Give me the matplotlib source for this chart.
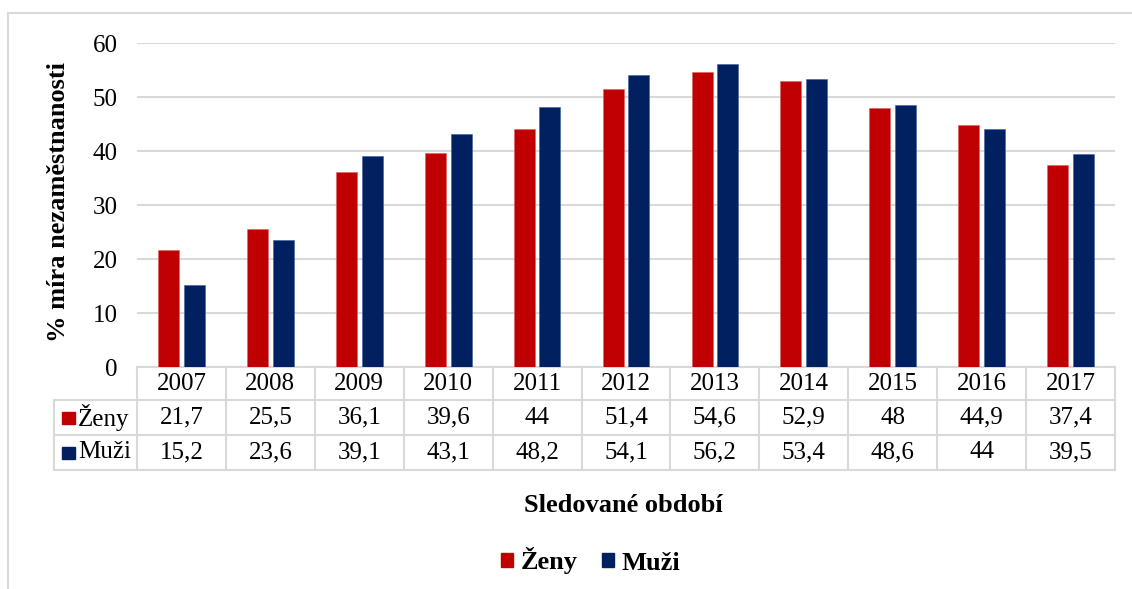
import matplotlib
matplotlib.use("Agg")
import matplotlib.pyplot as plt
import numpy as np
from matplotlib.patches import Patch, Rectangle
from matplotlib.lines import Line2D
from matplotlib.transforms import blended_transform_factory

# ---------- Data ----------
years = ["2007", "2008", "2009", "2010", "2011", "2012", "2013", "2014", "2015", "2016", "2017"]
zeny = [21.7, 25.5, 36.1, 39.6, 44, 51.4, 54.6, 52.9, 48, 44.9, 37.4]
muzi = [15.2, 23.6, 39.1, 43.1, 48.2, 54.1, 56.2, 53.4, 48.6, 44, 39.5]
series_names = ["Ženy", "Muži"]

RED = "#C00000"
BLUE = "#002060"
GRID = "#D9D9D9"
FS = 18      # ticks / table
FT = 19      # axis titles, legend

plt.rcParams["font.family"] = ["Liberation Serif", "DejaVu Serif"]

W, H = 1132, 589
fig = plt.figure(figsize=(W / 100, H / 100), dpi=100)

def fx(px):
    return px / W

def fy(py):
    return 1 - py / H

# chart frame (light gray border)
fig.add_artist(Rectangle((fx(8), fy(600)), fx(1140) - fx(8), fy(13) - fy(600),
                         transform=fig.transFigure, fill=False, edgecolor=GRID, lw=1.5))

ax = fig.add_axes([fx(137), fy(367), fx(1115) - fx(137), fy(43) - fy(367)])

x = np.arange(len(years))
bw = 0.236
ax.bar(x - 0.145, zeny, bw, color=RED, edgecolor="#e06060", lw=0.4, zorder=3)
ax.bar(x + 0.145, muzi, bw, color=BLUE, edgecolor="#4060a0", lw=0.4, zorder=3)

ax.set_xlim(-0.5, len(years) - 0.5)
ax.set_ylim(0, 60)
ax.set_yticks(range(0, 61, 10))
ax.yaxis.grid(True, color=GRID, lw=1.5, zorder=0)
ax.set_xticks([])
ax.tick_params(axis="y", length=0, labelsize=FS, pad=14)
for s in ax.spines.values():
    s.set_visible(False)

ax.set_ylabel("% míra nezaměstnanosti", fontsize=FT, fontweight="bold")
ax.yaxis.set_label_coords(-0.068, 0.51)

# ---------- Data table under the axes ----------
tr = blended_transform_factory(ax.transData, ax.transAxes)

def ay(py):
    # pixel row -> axes fraction
    return (367 - py) / (367 - 43)

row_edges = [367, 400, 435, 470]
n = len(years)
left_px = 54
left_data = -0.5 + (left_px - 137) / ((1115 - 137) / n)

lkw = dict(color=GRID, lw=1.5, transform=tr, clip_on=False)
# horizontal lines
ax.add_line(Line2D([-0.5, n - 0.5], [ay(row_edges[0])] * 2, **lkw))
for r in row_edges[1:]:
    ax.add_line(Line2D([left_data, n - 0.5], [ay(r)] * 2, **lkw))
# vertical lines
for i in range(n + 1):
    ax.add_line(Line2D([i - 0.5, i - 0.5], [ay(row_edges[0]), ay(row_edges[-1])], **lkw))
ax.add_line(Line2D([left_data, left_data], [ay(row_edges[1]), ay(row_edges[-1])], **lkw))

def fmt(v):
    return ("%g" % v).replace(".", ",")

for i, yr in enumerate(years):
    ax.text(i, ay((row_edges[0] + row_edges[1]) / 2), yr, transform=tr,
            ha="center", va="center", fontsize=FS)
    ax.text(i, ay((row_edges[1] + row_edges[2]) / 2), fmt(zeny[i]), transform=tr,
            ha="center", va="center", fontsize=FS)
    ax.text(i, ay((row_edges[2] + row_edges[3]) / 2), fmt(muzi[i]), transform=tr,
            ha="center", va="center", fontsize=FS)

# row headers with colour keys
for k, (name, col) in enumerate(zip(series_names, [RED, BLUE])):
    yc = (row_edges[k + 1] + row_edges[k + 2]) / 2
    fig.add_artist(Rectangle((fx(62), fy(yc + 6)), fx(75) - fx(62), fy(yc - 6) - fy(yc + 6),
                             transform=fig.transFigure, color=col))
    fig.text(fx(78), fy(yc), name, ha="left", va="center", fontsize=FS)

# ---------- Axis title and legend ----------
fig.text(fx(623), fy(506), "Sledované období", ha="center", va="center",
         fontsize=FT, fontweight="bold")

handles = [Patch(color=RED), Patch(color=BLUE)]
fig.legend(handles, series_names, loc="center", bbox_to_anchor=(fx(591), fy(561)),
           ncol=2, frameon=False, prop={"weight": "bold", "size": FT},
           handlelength=0.45, handleheight=0.45, handletextpad=0.3, columnspacing=0.9)

fig.savefig("out.png", dpi=100)
